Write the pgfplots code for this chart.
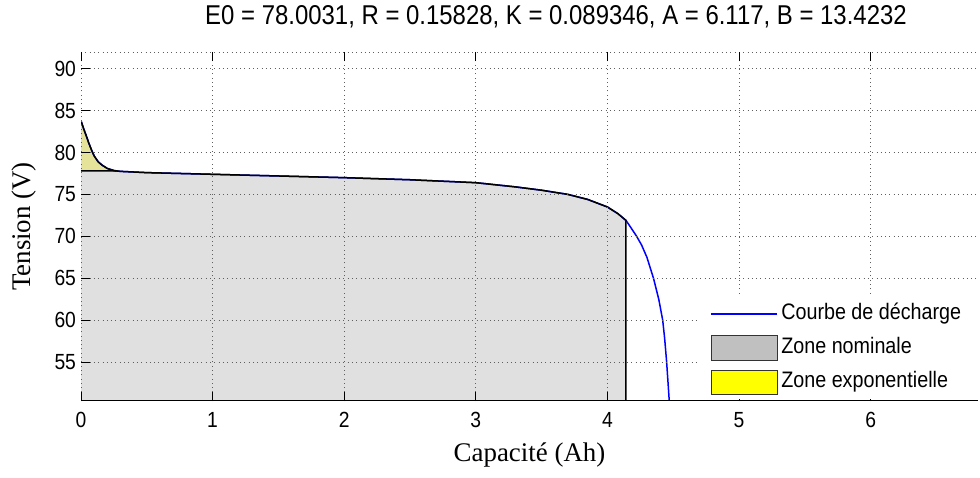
\documentclass[border=0pt]{standalone}
\usepackage{fontspec}
\setmainfont{Liberation Sans}[FakeStretch=0.88]
\newfontfamily\labelfont{Liberation Serif}
\usepackage{pgfplots}
\pgfplotsset{compat=1.18}
\definecolor{nomfill}{RGB}{224,224,224}
\definecolor{expfill}{RGB}{229,226,153}
\definecolor{nomleg}{RGB}{192,192,192}
\definecolor{expleg}{RGB}{255,255,0}
\definecolor{gridc}{RGB}{95,95,95}
\definecolor{curveblue}{RGB}{0,0,255}
\begin{document}
\begin{tikzpicture}
\path[use as bounding box] (0,0) rectangle (980bp,478bp);
\begin{axis}[
  at={(81bp,77bp)}, anchor=south west,
  scale only axis, width=897bp, height=349bp,
  xmin=0, xmax=6.816, ymin=50.34, ymax=92,
  xtick={0,1,2,3,4,5,6}, ytick={55,60,65,70,75,80,85,90},
  /pgf/number format/assume math mode=true,
  tick label style={font=\fontsize{22}{24}\selectfont},
  xticklabel style={yshift=-8bp},
  yticklabel style={xshift=-1.5bp},
  grid=major,
  grid style={color=gridc, line width=0.9bp, dash pattern=on 0.9bp off 3.4bp},
  axis line style={draw=none},
  tick align=inside, major tick length=9bp,
  every tick/.style={black, line width=0.9bp},
  xtick pos=both, ytick pos=left,
  axis on top,
  xlabel={Capacité (Ah)},
  ylabel={Tension (V)},
  xlabel style={font=\labelfont\fontsize{27}{29}\selectfont, at={(axis description cs:0.5,-0.155)}, anchor=center},
  ylabel style={font=\labelfont\fontsize{27}{29}\selectfont, at={(axis description cs:-0.0635,0.5)}, anchor=center},
  legend style={at={(axis description cs:0.687,0.006)}, anchor=south west, draw=none, fill=white,
    font=\fontsize{22.5}{24}\selectfont, inner xsep=13bp, inner ysep=4bp,
    row sep=8.5bp,
    nodes={inner xsep=3.5bp, inner ysep=0bp, text height=18bp, text depth=7bp}},
  legend cell align=left,
]
% Nominal zone fill
\addplot[draw=none, fill=nomfill, forget plot] coordinates {
(0,50.34) (0,77.8) (0.27,77.8) (0.30,77.75) (0.50,77.6) (1.00,77.4) (1.50,77.2) (2.00,77.0)
(2.50,76.75) (3.00,76.4) (3.30,75.9) (3.50,75.5) (3.70,75.0) (3.85,74.4) (4.00,73.5)
(4.08,72.7) (4.141,71.9) (4.141,50.34)} -- cycle;
% Exponential zone fill
\addplot[draw=none, fill=expfill, forget plot] coordinates {
(0,77.8) (0,83.8) (0.02,82.85) (0.04,82.0) (0.06,81.1) (0.08,80.3) (0.10,79.6) (0.13,78.9)
(0.16,78.5) (0.20,78.1) (0.25,77.85) (0.27,77.8)} -- cycle;
% Discharge curve
\addplot[curveblue, line width=1.5bp, forget plot] coordinates {
(0,83.8) (0.02,82.85) (0.04,82.0) (0.06,81.1) (0.08,80.3) (0.10,79.6) (0.13,78.9)
(0.16,78.5) (0.20,78.1) (0.25,77.85) (0.30,77.75) (0.50,77.6) (1.00,77.4) (1.50,77.2)
(2.00,77.0) (2.50,76.75) (3.00,76.4) (3.30,75.9) (3.50,75.5) (3.70,75.0) (3.85,74.4)
(4.00,73.5) (4.08,72.7) (4.141,71.9) (4.18,71.0) (4.222,70.0) (4.26,68.95) (4.30,67.5)
(4.35,65.0) (4.39,62.5) (4.42,60.0) (4.435,57.8) (4.45,55.0) (4.47,50.34)};
% Zone edges
\addplot[black, line width=1.5bp, forget plot] coordinates {
(0,77.8) (0.27,77.8) (0.30,77.75) (0.50,77.6) (1.00,77.4) (1.50,77.2) (2.00,77.0)
(2.50,76.75) (3.00,76.4) (3.30,75.9) (3.50,75.5) (3.70,75.0) (3.85,74.4) (4.00,73.5)
(4.08,72.7) (4.141,71.9) (4.141,50.34)};
\addplot[black, line width=1.5bp, forget plot] coordinates {
(0,83.8) (0.02,82.85) (0.04,82.0) (0.06,81.1) (0.08,80.3) (0.10,79.6) (0.13,78.9)
(0.16,78.5) (0.20,78.1) (0.25,77.85) (0.27,77.8)};
\draw[black, line width=1.5bp] (rel axis cs:0,0) -- (rel axis cs:1,0);
\draw[color=gridc, line width=0.9bp, dash pattern=on 0.9bp off 3.4bp] (rel axis cs:0,1) -- (rel axis cs:1,1);
\addlegendimage{draw=curveblue, line width=1.4bp, legend image code/.code={\draw[draw=curveblue, line width=1.4bp] (0bp,0bp) -- (66bp,0bp);}}
\addlegendentry{Courbe de décharge}
\addlegendimage{legend image code/.code={\draw[fill=nomleg, draw=black!80, line width=1.2bp] (0bp,-12.5bp) rectangle (66bp,12.5bp);}}
\addlegendentry{Zone nominale}
\addlegendimage{legend image code/.code={\draw[fill=expleg, draw=black!80, line width=1.2bp] (0bp,-12bp) rectangle (66bp,12bp);}}
\addlegendentry{Zone exponentielle}
\end{axis}
\node[font=\fontsize{27.3}{29}\selectfont] at (556bp,461bp) {E0 = 78.0031, R = 0.15828, K = 0.089346, A = 6.117, B = 13.4232};
\end{tikzpicture}
\end{document}
